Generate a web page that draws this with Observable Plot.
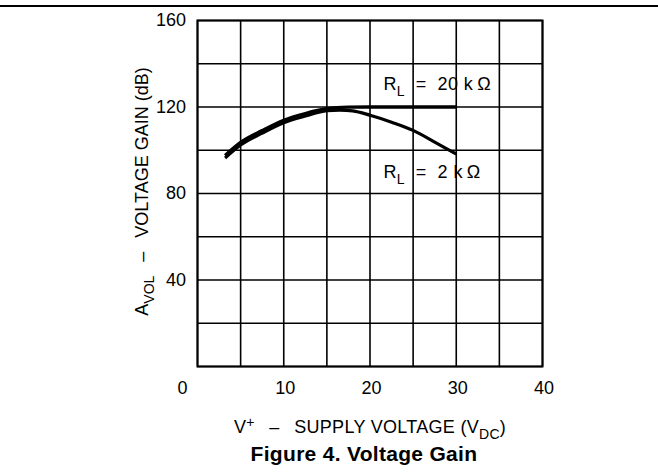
<!DOCTYPE html>
<html>
<head>
<meta charset="utf-8">
<script src="https://cdn.jsdelivr.net/npm/d3@7"></script>
<script src="https://cdn.jsdelivr.net/npm/@observablehq/plot@0.6"></script>
<style>
  html, body { margin: 0; padding: 0; background: #fff; }
  #wrap { position: relative; width: 658px; height: 474px; overflow: hidden; }
  #toprule { position: absolute; left: 0; top: 5px; width: 658px; height: 2px; background: #000; }
  #title { width: 658px; box-sizing: border-box; padding-left: 70px; margin-top: -4px; text-align: center;
           font-family: "Liberation Sans", Arial, sans-serif; font-weight: bold; font-size: 21px;
           letter-spacing: 0.3px; line-height: 24px; color: #000; }
  svg { display: block; }
</style>
</head>
<body>
<div id="wrap">
  <div id="toprule"></div>
  <div id="chart"></div>
  <div id="title">Figure 4. Voltage Gain</div>
</div>
<script>
// Data
const xGrid = [0, 5, 10, 15, 20, 25, 30, 35, 40];
const yGrid = [0, 20, 40, 60, 80, 100, 120, 140, 160];
const xTicks = [0, 10, 20, 30, 40];
const yTicks = [40, 80, 120, 160];

const rl20Volts = [3.2, 5, 7.5, 10, 12.5, 15, 17.5, 20, 25, 30];
const rl20Gain  = [97.6, 103.6, 109.1, 113.9, 117.0, 119.2, 119.9, 120, 120, 120];
const rl2Volts  = [3.2, 5, 7.5, 10, 12.5, 15, 16.5, 18, 20, 22.5, 25, 27.5, 30];
const rl2Gain   = [96.4, 102.4, 107.9, 112.7, 115.8, 118.3, 118.6, 118.2, 116.2, 113.0, 109.2, 103.8, 98.2];

const labels = [
  {text: "R_{L}  =  20 k\u2009Ω", v: 21.56, g: 130.4},
  {text: "R_{L}  =  2 k\u2009Ω",  v: 21.56, g: 89.7}
];
const xLabel = "V^{+}\u2002 –\u2002 SUPPLY VOLTAGE (V_{DC})";
const yLabel = "A_{VOL}\u2002 –\u2002 VOLTAGE GAIN (dB)";

const rl20 = rl20Volts.map((v, i) => ({v, g: rl20Gain[i]}));
const rl2 = rl2Volts.map((v, i) => ({v, g: rl2Gain[i]}));

const font = "'Liberation Sans', Arial, sans-serif";

const chart = Plot.plot({
  width: 658,
  height: 446,
  marginTop: 20,
  marginBottom: 80,
  marginLeft: 197,
  marginRight: 116,
  x: {domain: [0, 40], axis: null},
  y: {domain: [0, 160], axis: null},
  style: {fontFamily: font, fontSize: "18px", color: "#000", background: "#fff"},
  marks: [
    Plot.ruleX(xGrid, {x: d => d, stroke: "#000", strokeWidth: 1.6, strokeOpacity: 1}),
    Plot.ruleY(yGrid, {y: d => d, stroke: "#000", strokeWidth: 1.6, strokeOpacity: 1}),
    Plot.frame({stroke: "#000", strokeWidth: 2}),
    Plot.line(rl2, {x: "v", y: "g", curve: "monotone-x", stroke: "#000", strokeWidth: 3.2, strokeLinecap: "butt"}),
    Plot.line(rl20, {x: "v", y: "g", curve: "monotone-x", stroke: "#000", strokeWidth: 3.3, strokeLinecap: "butt"}),
    Plot.text(xTicks.filter(d => d === 0), {x: d => d, y: 0, text: d => String(d), dx: -15, dy: 22, fontSize: 18, fill: "#000"}),
    Plot.text(xTicks.filter(d => d !== 0), {x: d => d, y: 0, text: d => String(d), dx: 1.5, dy: 22, fontSize: 18, fill: "#000"}),
    Plot.text(yTicks, {x: 0, y: d => d, text: d => String(d), dx: -11.5, textAnchor: "end", fontSize: 18, fill: "#000"}),
    Plot.text(labels, {x: "v", y: "g", text: "text", textAnchor: "start", fontSize: 18, fill: "#000", className: "rich rich-a"}),
    Plot.text([xLabel], {frameAnchor: "bottom", textAnchor: "middle", lineAnchor: "middle", text: d => d, dx: 0, dy: 60.5, fontSize: 18, fill: "#000", className: "rich rich-x"}),
    Plot.text([yLabel], {frameAnchor: "left", textAnchor: "middle", lineAnchor: "middle", text: d => d, rotate: -90, dx: -55, dy: -2, fontSize: 18, fill: "#000", className: "rich rich-y"})
  ]
});

function richify(node, opts) {
  const s = node.textContent;
  const sel = d3.select(node);
  sel.text(null).style("white-space", "pre");
  const parts = [];
  const re = /([_^])\{([^}]*)\}/g;
  let last = 0, m;
  while ((m = re.exec(s))) {
    if (m.index > last) parts.push({t: s.slice(last, m.index), k: ""});
    parts.push({t: m[2], k: m[1]});
    last = re.lastIndex;
  }
  if (last < s.length) parts.push({t: s.slice(last), k: ""});
  let cur = 0;
  for (const p of parts) {
    const target = p.k === "_" ? opts.sub : p.k === "^" ? -opts.sup : 0;
    const ts = sel.append("tspan").text(p.t);
    if (target !== cur) ts.attr("dy", target - cur);
    if (p.k) ts.attr("font-size", opts.small);
    cur = target;
  }
}

chart.querySelectorAll("g.rich text").forEach(n => richify(n, {sub: 6, sup: 6, small: 14}));
chart.querySelectorAll("g.rich-x text").forEach(n => n.setAttribute("letter-spacing", "0.3"));
chart.querySelectorAll("g.rich-a text").forEach(n => n.setAttribute("letter-spacing", "0.4"));

document.getElementById("chart").appendChild(chart);
</script>
</body>
</html>
